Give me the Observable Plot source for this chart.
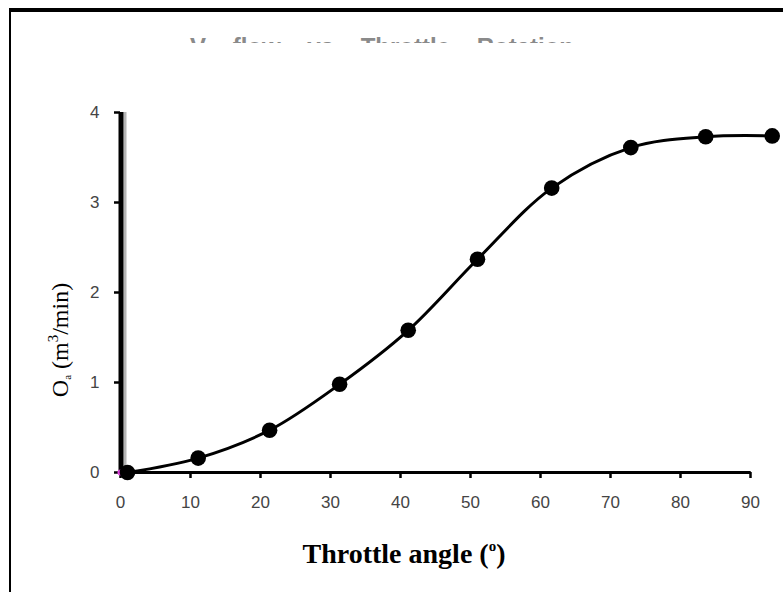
<!DOCTYPE html>
<html><head><meta charset="utf-8">
<script src="https://cdn.jsdelivr.net/npm/d3@7"></script>
<script src="https://cdn.jsdelivr.net/npm/@observablehq/plot@0.6"></script>
<style>
body{margin:0;background:#fff;}
#wrap{position:relative;width:783px;height:593px;overflow:hidden;}
#frame{position:absolute;left:9px;top:8px;width:800px;height:584px;border-top:4px solid #000;border-left:2px solid #000;box-sizing:border-box;pointer-events:none;}
#title{position:absolute;left:0;top:37px;width:783px;height:6px;overflow:hidden;}
#title span{position:absolute;left:190px;top:-4px;line-height:22px;font:bold 24px "Liberation Sans",Arial,sans-serif;color:#8a8a8a;white-space:nowrap;word-spacing:20px;}
g[aria-label$="tick label"] text{font-size:17px !important;}
</style></head><body>
<div id="wrap"><div id="chart"></div><div id="frame"></div><div id="title"><span>V flow vs Throttle Rotation</span></div></div>
<script>
const angle = [1.0, 11.1, 21.3, 31.3, 41.1, 51.0, 61.6, 72.9, 83.6, 93.1];
const flow  = [0, 0.16, 0.47, 0.98, 1.58, 2.37, 3.16, 3.61, 3.73, 3.74];
const xTicks = [0, 10, 20, 30, 40, 50, 60, 70, 80, 90];
const yTicks = [0, 1, 2, 3, 4];
const data = angle.map((a, i) => ({angle: a, flow: flow[i]}));

const plot = Plot.plot({
  width: 783, height: 593,
  marginLeft: 120, marginRight: 33, marginTop: 112, marginBottom: 121,
  style: {fontFamily: '"Liberation Sans", Arial, sans-serif', fontSize: "17px", background: "transparent", overflow: "visible"},
  x: {domain: [0, 90], label: null},
  y: {domain: [0, 4], label: null},
  marks: [
    Plot.axisX({ticks: xTicks, tickFormat: d3.format("d"), tickSize: 6, tickPadding: 17, stroke: "#000", strokeWidth: 2.5, fill: "#444", fontSize: 17, label: null}),
    Plot.axisY({ticks: yTicks, tickFormat: d3.format("d"), tickSize: 6, tickPadding: 15, stroke: "#000", strokeWidth: 2.5, fill: "#444", fontSize: 17, label: null}),
    Plot.ruleY([0], {x1: -0.2, x2: 90.1, stroke: "#000", strokeWidth: 3}),
    Plot.ruleX([0], {y1: 0, y2: 4, dx: 4.5, stroke: "#b5b5b5", strokeWidth: 3}),
    Plot.ruleX([0], {y1: 0, y2: 4, dx: 0.5, stroke: "#000", strokeWidth: 5}),
    Plot.dot([{angle: 0, flow: 0}], {x: "angle", y: "flow", r: 3, fill: "#e040e0"}),
    Plot.line(data, {x: "angle", y: "flow", curve: "catmull-rom", stroke: "#000", strokeWidth: 3}),
    Plot.dot(data, {x: "angle", y: "flow", r: 7.8, fill: "#000", stroke: "none"})
  ]
});
document.getElementById("chart").appendChild(plot);

const svg = d3.select(plot);
svg.selectAll('g[aria-label$="tick label"]').attr("font-size", 17);
const yl = svg.append("text")
  .attr("transform", "translate(68,340) rotate(-90)")
  .attr("text-anchor", "middle")
  .attr("fill", "#000")
  .style("font", '24px "Liberation Serif", "Times New Roman", serif');
yl.append("tspan").text("O");
yl.append("tspan").attr("font-size", "11px").attr("dy", 3).text("a");
yl.append("tspan").attr("dy", -3).text(" (m");
yl.append("tspan").attr("font-size", "15px").attr("dy", -10).text("3");
yl.append("tspan").attr("dy", 10).text("/min)");

const xl = svg.append("text")
  .attr("x", 404).attr("y", 563)
  .attr("text-anchor", "middle")
  .attr("fill", "#000")
  .style("font", 'bold 28px "Liberation Serif", "Times New Roman", serif');
xl.append("tspan").text("Throttle angle (");
xl.append("tspan").attr("font-size", "15px").attr("dy", -12).text("o");
xl.append("tspan").attr("dy", 12).text(")");
</script>
</body></html>
